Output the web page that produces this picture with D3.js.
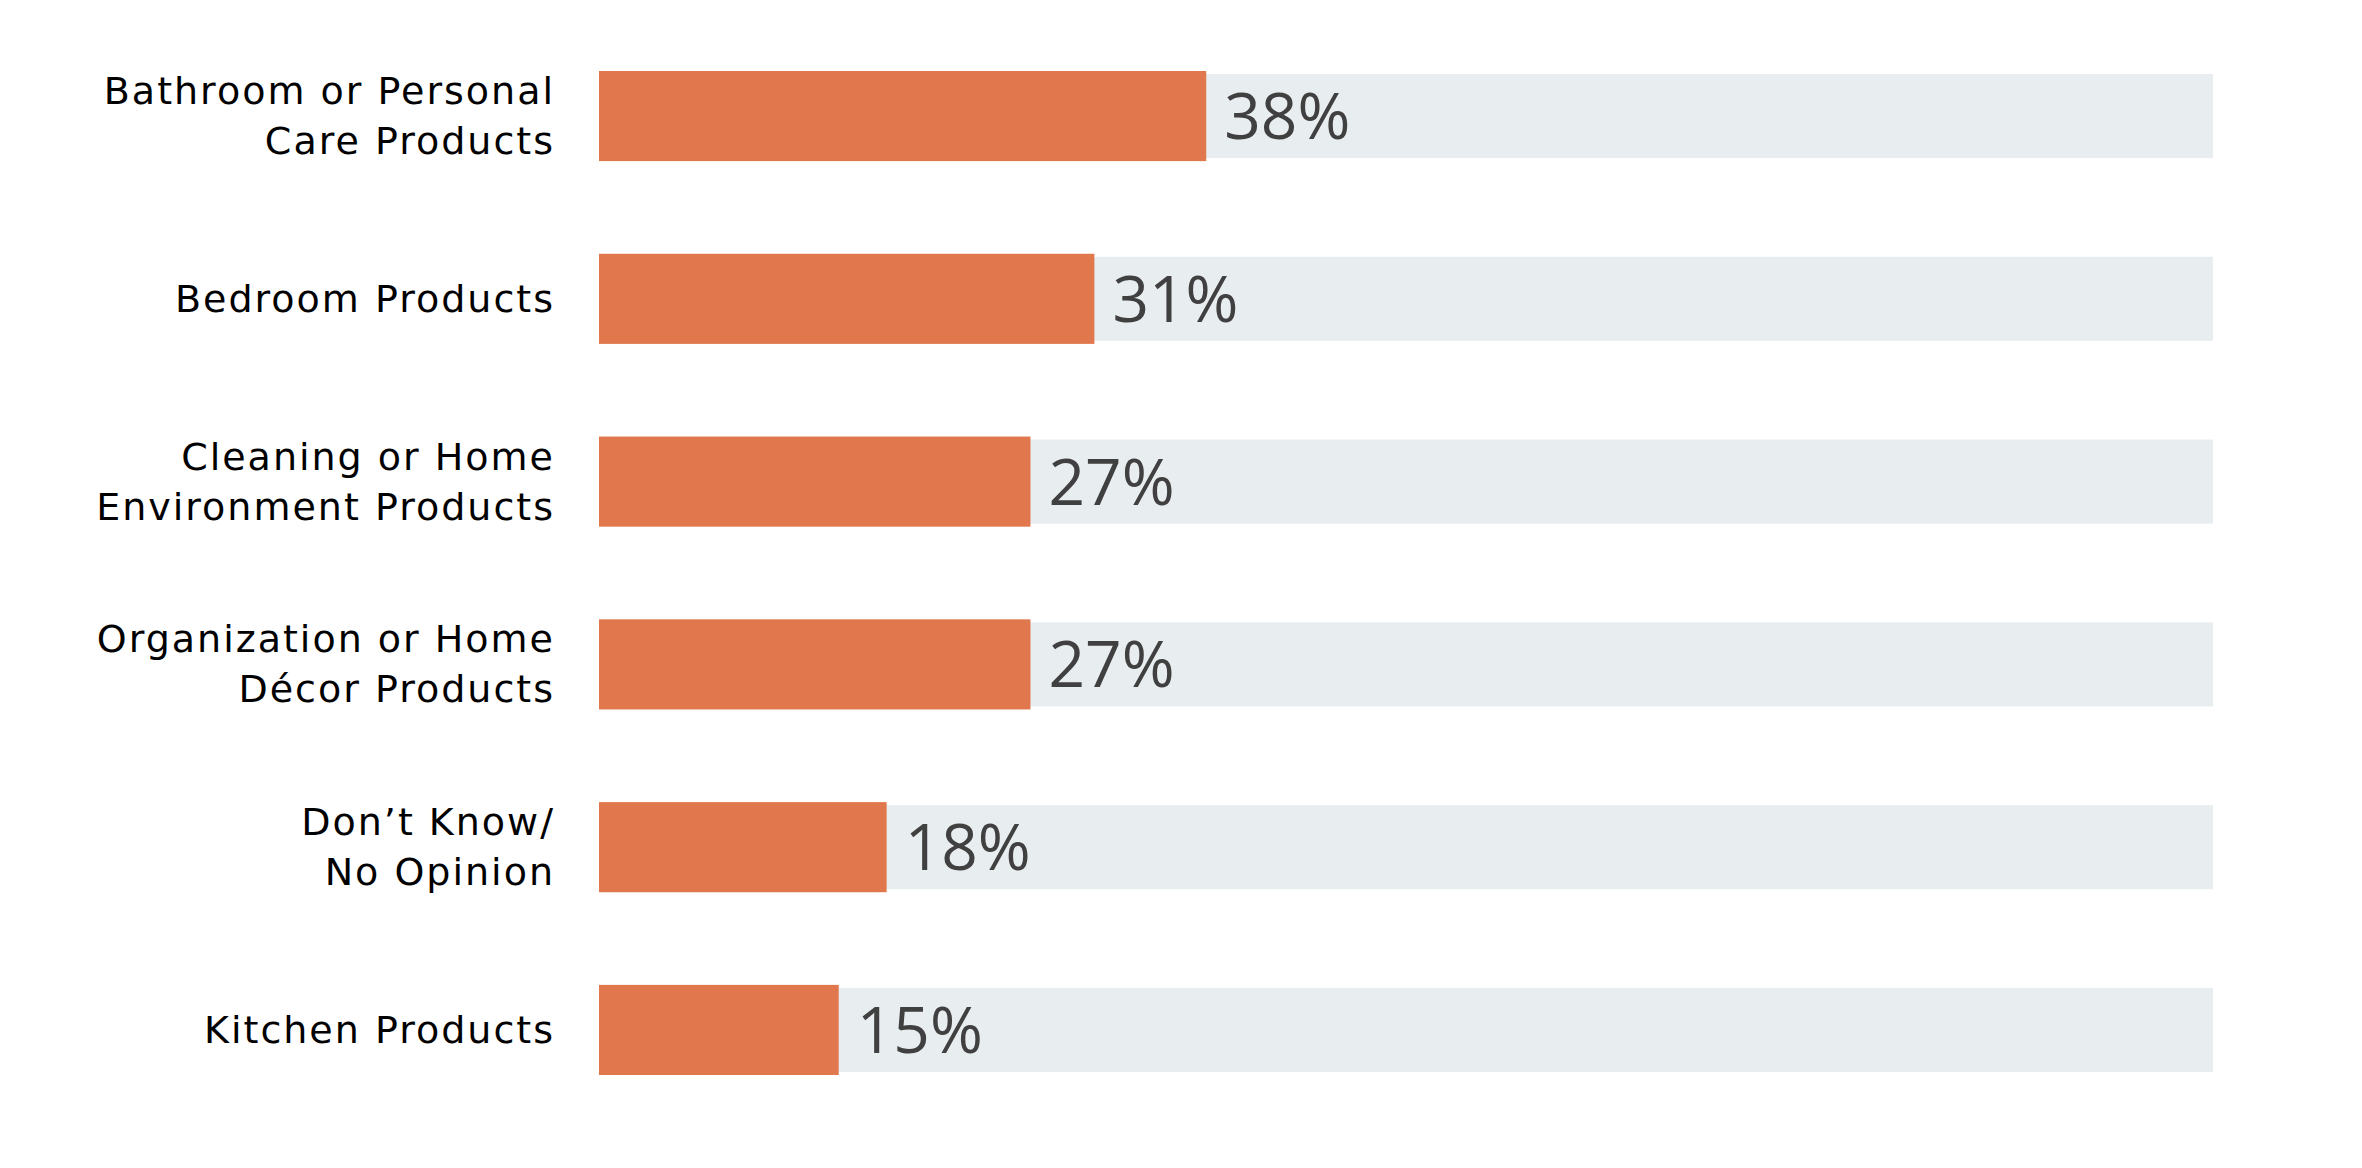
<!DOCTYPE html>
<html>
<head>
<meta charset="utf-8">
<script src="https://cdn.jsdelivr.net/npm/d3@7"></script>
<style>
  body { margin: 0; background: #ffffff; }
  .category { font-family: "DejaVu Sans", sans-serif; font-size: 38px; fill: #000000; letter-spacing: 2px; }
  .value { font-family: "Open Sans", sans-serif; font-size: 64px; fill: #404040; }
</style>
</head>
<body>
<div id="chart"></div>
<script>
// Chart data.
const categories = [
  ["Bathroom or Personal", "Care Products"],
  ["Bedroom Products"],
  ["Cleaning or Home", "Environment Products"],
  ["Organization or Home", "Décor Products"],
  ["Don’t Know/", "No Opinion"],
  ["Kitchen Products"]
];
const values = [38, 31, 27, 27, 18, 15];
const valueLabels = ["38%", "31%", "27%", "27%", "18%", "15%"];

const width = 2362;
const height = 1168;

const rows = categories.map((lines, i) => ({
  key: i,
  lines: lines,
  value: values[i],
  label: valueLabels[i]
}));

const svg = d3.select("#chart")
  .append("svg")
  .attr("width", width)
  .attr("height", height);

// Scales.
const xScale = d3.scaleLinear()
  .domain([0, 101])
  .range([599, 2213]);

const yScale = d3.scaleBand()
  .domain(rows.map((d) => d.key))
  .range([71, 1075])
  .paddingInner(0.507)
  .paddingOuter(0);

const trackInset = 3;
const lineGap = 50;

// Background tracks.
svg.selectAll("rect.track")
  .data(rows)
  .enter()
  .append("rect")
  .attr("class", "track")
  .attr("x", xScale.range()[0])
  .attr("y", (d) => yScale(d.key) + trackInset)
  .attr("width", xScale.range()[1] - xScale.range()[0])
  .attr("height", yScale.bandwidth() - trackInset * 2)
  .attr("fill", "#e8edf0");

// Value bars.
svg.selectAll("rect.bar")
  .data(rows)
  .enter()
  .append("rect")
  .attr("class", "bar")
  .attr("x", xScale(0))
  .attr("y", (d) => yScale(d.key))
  .attr("width", (d) => xScale(d.value) - xScale(0))
  .attr("height", yScale.bandwidth())
  .attr("fill", "#e1774d");

// Value labels.
svg.selectAll("text.value")
  .data(rows)
  .enter()
  .append("text")
  .attr("class", "value")
  .attr("x", (d) => xScale(d.value) + 18)
  .attr("y", (d) => yScale(d.key) + yScale.bandwidth() / 2 + 23)
  .text((d) => d.label);

// Category labels, right aligned, centred on each bar.
const catLabels = svg.selectAll("text.category")
  .data(rows)
  .enter()
  .append("text")
  .attr("class", "category")
  .attr("text-anchor", "end")
  .attr("x", 555)
  .attr("y", (d) => {
    const c = yScale(d.key) + yScale.bandwidth() / 2;
    return d.lines.length > 1 ? c - 12 : c + 13;
  });

catLabels.selectAll("tspan")
  .data((d) => d.lines)
  .enter()
  .append("tspan")
  .attr("x", 555)
  .attr("dy", (d, i) => (i === 0 ? 0 : lineGap))
  .text((d) => d);
</script>
</body>
</html>
